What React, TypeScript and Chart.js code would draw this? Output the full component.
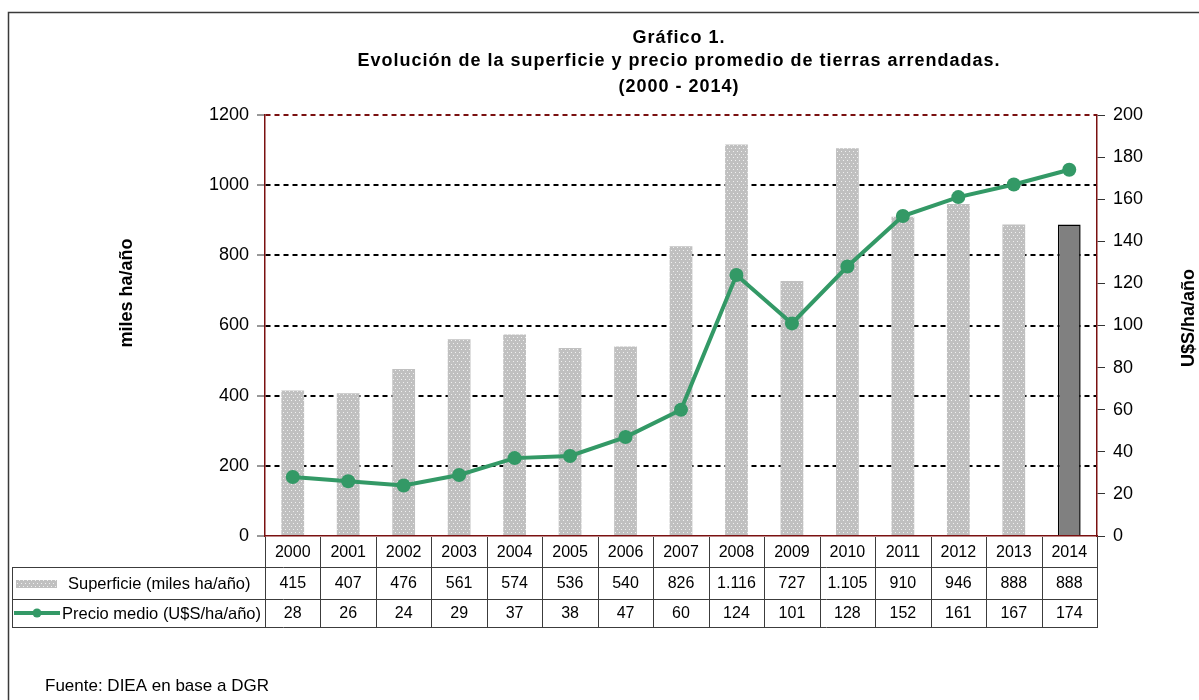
import React, { useEffect, useRef } from "react";
import { Chart, registerables } from "chart.js";

Chart.register(...registerables);

// ---- data ----
const years = ["2000", "2001", "2002", "2003", "2004", "2005", "2006", "2007", "2008", "2009", "2010", "2011", "2012", "2013", "2014"];
const superficie = [415, 407, 476, 561, 574, 536, 540, 826, 1116, 727, 1105, 910, 946, 888, 888];
const precio = [28, 26, 24, 29, 37, 38, 47, 60, 124, 101, 128, 152, 161, 167, 174];
const leftAxis = { min: 0, max: 1200, step: 200 };
const rightAxis = { min: 0, max: 200, step: 20 };
const titleLines = ["Gráfico 1.", "Evolución de la superficie y precio promedio de tierras arrendadas.", "(2000 - 2014)"];
const seriesLabels = ["Superficie (miles ha/año)", "Precio medio (U$S/ha/año)"];
const leftTitle = "miles ha/año";
const rightTitle = "U$S/ha/año";
const sourceText = "Fuente: DIEA en base a DGR";

const FONT = "'Liberation Sans', Arial, sans-serif";
const GREEN = "#339966";
const DARKRED = "#7a1010";
const BAR_GRAY = "#c0c0c0";

function fmt(n: number): string {
  return String(n).replace(/\B(?=(\d{3})+(?!\d))/g, ".");
}

function makePattern(ctx: CanvasRenderingContext2D): CanvasPattern | string {
  const c = document.createElement("canvas");
  c.width = 4;
  c.height = 6;
  const g = c.getContext("2d");
  if (!g) return BAR_GRAY;
  g.fillStyle = BAR_GRAY;
  g.fillRect(0, 0, 4, 6);
  g.fillStyle = "#f0f0f0";
  g.fillRect(1, 1, 1, 1);
  g.fillRect(3, 4, 1, 1);
  return ctx.createPattern(c, "repeat") || BAR_GRAY;
}

export default function App() {
  const ref = useRef<HTMLCanvasElement | null>(null);

  useEffect(() => {
    const canvas = ref.current;
    if (!canvas) return;
    const ctx0 = canvas.getContext("2d") as CanvasRenderingContext2D;
    const pattern = makePattern(ctx0);
    const last = superficie.length - 1;

    const decor = {
      id: "decor",
      beforeDraw(chart: any) {
        const ctx = chart.ctx as CanvasRenderingContext2D;
        ctx.save();
        ctx.fillStyle = "#fff";
        ctx.fillRect(0, 0, chart.width, chart.height);
        ctx.strokeStyle = "#3a3a3a";
        ctx.lineWidth = 1.5;
        ctx.strokeRect(8.5, 12.5, 1400, 900);
        ctx.restore();
      },
      afterDraw(chart: any) {
        const ctx = chart.ctx as CanvasRenderingContext2D;
        const area = chart.chartArea;
        const xs = chart.scales.x;
        const n = years.length;
        const catW = (area.right - area.left) / n;
        ctx.save();

        // Titles
        ctx.fillStyle = "#000";
        ctx.textAlign = "center";
        ctx.textBaseline = "alphabetic";
        ctx.font = `bold 18px ${FONT}`;
        (ctx as any).letterSpacing = "1px";
        const tx = 679;
        const ty = [43, 66, 92];
        titleLines.forEach((l, i) => ctx.fillText(l, tx, ty[i]));
        (ctx as any).letterSpacing = "0px";

        // Axis titles (both read bottom-to-top)
        ctx.font = `bold 18px ${FONT}`;
        ctx.textBaseline = "middle";
        ctx.save();
        ctx.translate(127, 293);
        ctx.rotate(-Math.PI / 2);
        ctx.fillText(leftTitle, 0, 0);
        ctx.restore();
        ctx.save();
        ctx.translate(1189, 318);
        ctx.rotate(-Math.PI / 2);
        ctx.fillText(rightTitle, 0, 0);
        ctx.restore();

        // Data table
        const top = area.bottom;
        const r1 = top + 31;
        const r2 = top + 63;
        const r3 = top + 91;
        const tableLeft = 12;
        const px = (v: number) => Math.round(v) + 0.5;
        ctx.strokeStyle = "#3c3c3c";
        ctx.lineWidth = 1;
        ctx.beginPath();
        for (let i = 0; i <= n; i++) {
          const x = px(area.left + i * catW);
          ctx.moveTo(x, top + 1);
          ctx.lineTo(x, r3);
        }
        [r1, r2, r3].forEach((y) => {
          ctx.moveTo(tableLeft, px(y));
          ctx.lineTo(px(area.right) + 0.5, px(y));
        });
        ctx.moveTo(px(tableLeft), px(r1));
        ctx.lineTo(px(tableLeft), px(r3));
        ctx.stroke();

        ctx.fillStyle = "#000";
        ctx.font = `16px ${FONT}`;
        ctx.textAlign = "center";
        ctx.textBaseline = "middle";
        for (let i = 0; i < n; i++) {
          const cx = xs.getPixelForValue(i);
          ctx.fillText(years[i], cx, (top + r1) / 2 + 1);
          ctx.fillText(fmt(superficie[i]), cx, (r1 + r2) / 2 + 1);
          ctx.fillText(fmt(precio[i]), cx, (r2 + r3) / 2 + 1);
        }

        // Row labels with legend keys
        ctx.textAlign = "left";
        ctx.font = `16.5px ${FONT}`;
        ctx.fillStyle = pattern as any;
        ctx.fillRect(16, (r1 + r2) / 2 - 3, 41, 8);
        ctx.fillStyle = "#000";
        ctx.fillText(seriesLabels[0], 68, (r1 + r2) / 2 + 1);

        const ly = (r2 + r3) / 2;
        ctx.strokeStyle = GREEN;
        ctx.lineWidth = 4;
        ctx.beginPath();
        ctx.moveTo(14, ly);
        ctx.lineTo(60, ly);
        ctx.stroke();
        ctx.fillStyle = GREEN;
        ctx.beginPath();
        ctx.arc(37, ly, 4.5, 0, Math.PI * 2);
        ctx.fill();
        ctx.fillStyle = "#000";
        ctx.fillText(seriesLabels[1], 62, ly + 1);

        // Source
        ctx.font = `17px ${FONT}`;
        ctx.fillText(sourceText, 45, 686);

        ctx.restore();
      },
    };

    const chart = new Chart(canvas, {
      type: "bar",
      data: {
        labels: years,
        datasets: [
          {
            type: "line",
            label: seriesLabels[1],
            data: precio,
            yAxisID: "y1",
            borderColor: GREEN,
            backgroundColor: GREEN,
            borderWidth: 4,
            pointRadius: 7,
            pointBackgroundColor: GREEN,
            pointBorderWidth: 0,
            tension: 0,
            order: 0,
          } as any,
          {
            type: "bar",
            label: seriesLabels[0],
            data: superficie,
            yAxisID: "y",
            backgroundColor: superficie.map((_, i) => (i === last ? "#808080" : pattern)) as any,
            borderColor: "#000",
            borderWidth: superficie.map((_, i) => (i === last ? 1.5 : 0)) as any,
            barPercentage: 0.41,
            categoryPercentage: 1,
            order: 1,
          } as any,
        ],
      },
      options: {
        responsive: false,
        animation: false,
        devicePixelRatio: 1,
        events: [],
        layout: { padding: { left: 0, right: 0, top: 115, bottom: 164 } },
        plugins: {
          legend: { display: false },
          title: { display: false },
          tooltip: { enabled: false },
        },
        scales: {
          x: {
            ticks: { display: false },
            grid: { display: false },
            border: { display: true, color: DARKRED, width: 1.5 },
            afterFit: (s: any) => {
              s.height = 0;
            },
          },
          y: {
            position: "left",
            min: leftAxis.min,
            max: leftAxis.max,
            ticks: {
              stepSize: leftAxis.step,
              color: "#000",
              font: { family: FONT, size: 18 },
              padding: 8,
              callback: (v: any) => String(v),
            },
            grid: {
              color: (c: any) =>
                c.tick && c.tick.value === 0 ? "rgba(0,0,0,0)" : c.tick && c.tick.value === leftAxis.max ? DARKRED : "#000",
              lineWidth: 2,
              tickColor: "#333",
              tickWidth: 1,
              tickLength: 8,
            },
            border: { display: true, color: DARKRED, width: 1.5, dash: [5, 4] },
            afterFit: (s: any) => {
              s.width = 265;
            },
          },
          y1: {
            position: "right",
            min: rightAxis.min,
            max: rightAxis.max,
            ticks: {
              stepSize: rightAxis.step,
              color: "#000",
              font: { family: FONT, size: 18 },
              padding: 8,
              callback: (v: any) => String(v),
            },
            grid: { drawOnChartArea: false, tickColor: "#333", tickWidth: 1, tickLength: 8 },
            border: { display: true, color: DARKRED, width: 1.5 },
            afterFit: (s: any) => {
              s.width = 102;
            },
          },
        },
      } as any,
      plugins: [decor],
    });

    return () => chart.destroy();
  }, []);

  return (
    <div style={{ position: "absolute", left: 0, top: 0, width: 1199, height: 700 }}>
      <canvas ref={ref} width={1199} height={700} style={{ display: "block", width: 1199, height: 700 }} />
    </div>
  );
}
